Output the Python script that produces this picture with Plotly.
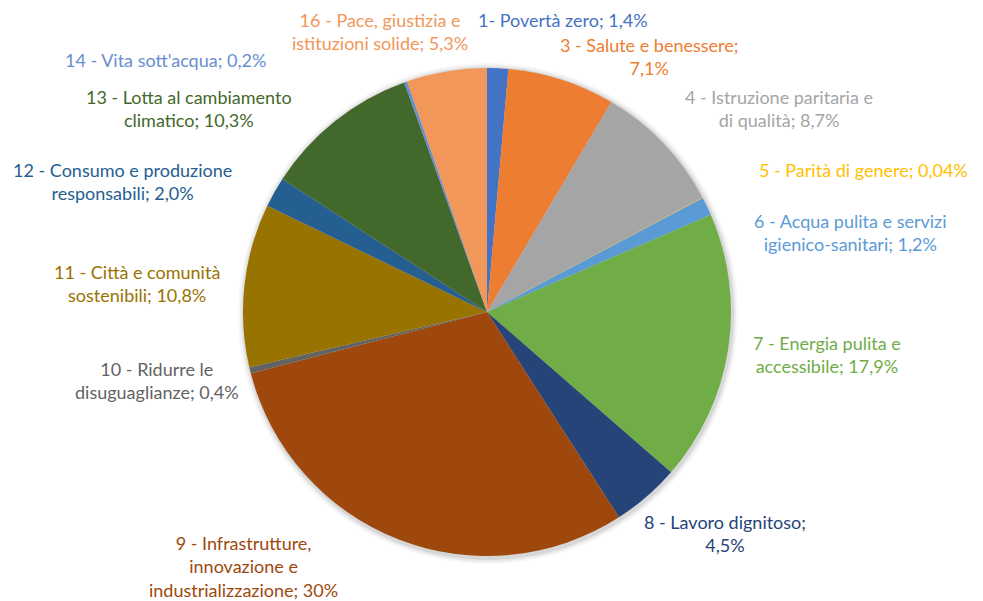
import plotly.graph_objects as go

# Obiettivi di sviluppo sostenibile - quota per obiettivo
goals = [
    '1- Povertà zero',
    '3 - Salute e benessere',
    '4 - Istruzione paritaria e<br>di qualità',
    '5 - Parità di genere',
    '6 - Acqua pulita e servizi<br>igienico-sanitari',
    '7 - Energia pulita e<br>accessibile',
    '8 - Lavoro dignitoso',
    '9 - Infrastrutture,<br>innovazione e<br>industrializzazione',
    '10 - Ridurre le<br>disuguaglianze',
    '11 - Città e comunità<br>sostenibili',
    '12 - Consumo e produzione<br>responsabili',
    '13 - Lotta al cambiamento<br>climatico',
    '14 - Vita sott\'acqua',
    '16 - Pace, giustizia e<br>istituzioni solide',
]
shares = [1.4, 7.1, 8.7, 0.04, 1.2, 17.9, 4.5, 30.0, 0.4, 10.8, 2.0, 10.3, 0.2, 5.3]
share_text = ['1,4%', '7,1%', '8,7%', '0,04%', '1,2%', '17,9%', '4,5%', '30%',
              '0,4%', '10,8%', '2,0%', '10,3%', '0,2%', '5,3%']
# separator before the value (some labels wrap right before the number)
seps = ['; ', ';<br>', '; ', '; ', '; ', '; ', ';<br>', '; ', '; ', '; ', '; ', '; ', '; ', '; ']

colors = ['#4472C4', '#ED7D31', '#A5A5A5', '#FFC000', '#5B9BD5', '#70AD47', '#264478',
          '#9E480E', '#636363', '#997300', '#255E91', '#43682B', '#698ED0', '#F1975A']

# label centres in page pixels (x, y of the block centre)
label_pos = [(563, 20), (649, 57), (779, 108), (863, 170), (850, 232), (827, 355), (725, 533),
             (243, 566), (157, 380), (137, 283), (122, 181), (189, 108), (165, 60), (380, 32)]

OFF = 8  # the page body margin
W, H = 983 - OFF, 601 - OFF


def fx(px):
    return (px - OFF) / W


def fy(py):
    return 1 - (py - OFF) / H


cx, cy, r = 487, 312, 244

fig = go.Figure(go.Pie(
    labels=[g.replace('<br>', ' ') for g in goals],
    values=shares,
    sort=False,
    direction='clockwise',
    rotation=0,
    marker=dict(colors=colors, line=dict(width=0)),
    textinfo='none',
    hoverinfo='label+percent',
    domain=dict(x=[fx(cx - r), fx(cx + r)], y=[fy(cy + r), fy(cy - r)]),
))

# soft shadow around the pie
for grow, alpha in [(6, 0.03), (4, 0.05), (2, 0.08)]:
    fig.add_shape(
        type='circle', xref='paper', yref='paper', layer='below',
        x0=fx(cx - r - grow + 1), x1=fx(cx + r + grow + 1),
        y0=fy(cy + r + grow + 2), y1=fy(cy - r - grow + 1),
        fillcolor='rgba(0,0,0,%s)' % alpha, line=dict(width=0),
    )

for g, s, t, c, (px, py) in zip(goals, seps, share_text, colors, label_pos):
    fig.add_annotation(
        x=fx(px), y=fy(py), xref='paper', yref='paper',
        text=g + s + t, showarrow=False,
        xanchor='center', yanchor='middle', align='center',
        font=dict(family='Lato', size=18, color=c),
    )

fig.update_layout(
    width=W, height=H,
    margin=dict(l=0, r=0, t=0, b=0),
    showlegend=False,
    paper_bgcolor='white',
    plot_bgcolor='white',
)

fig.write_html('out.html')
